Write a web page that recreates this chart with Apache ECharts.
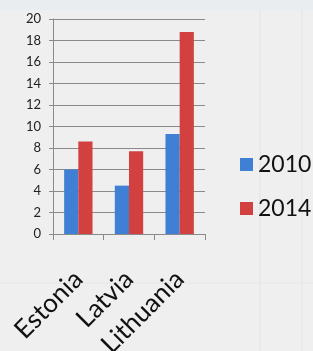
<!DOCTYPE html>
<html lang="en">
<head>
    <meta charset="UTF-8">
    <title>Baltic chart</title>
    <script src="https://cdn.jsdelivr.net/npm/echarts@6/dist/echarts.min.js"></script>
    <style>
        html, body { margin: 0; padding: 0; background: #efefef; }
        #chart { width: 313px; height: 351px; }
    </style>
</head>
<body>
<div id="chart"></div>
<script>
    var countries = ['Estonia', 'Latvia', 'Lithuania'];
    var years = ['2010', '2014'];
    var values2010 = [6.0, 4.5, 9.3];
    var values2014 = [8.6, 7.7, 18.8];

    var myChart = echarts.init(document.getElementById('chart'));
    var option = {
        backgroundColor: '#efefef',
        animation: false,
        textStyle: { fontFamily: 'Lato' },
        // faint spreadsheet background
        graphic: [
            { type: 'rect', shape: { x: 0, y: 0, width: 313, height: 10 }, style: { fill: '#e9edf0' }, silent: true },
            { type: 'line', shape: { x1: 260, y1: 10, x2: 260, y2: 351 }, style: { stroke: '#e3e3e3' }, silent: true },
            { type: 'line', shape: { x1: 302, y1: 10, x2: 302, y2: 351 }, style: { stroke: '#e3e3e3' }, silent: true },
            { type: 'line', shape: { x1: 0, y1: 283, x2: 313, y2: 283 }, style: { stroke: '#e6e6e6' }, silent: true }
        ],
        grid: { left: 53, top: 19, right: 108, bottom: 117, containLabel: false, outerBoundsMode: 'none' },
        legend: {
            data: years,
            orient: 'vertical',
            left: 235,
            top: 148,
            itemWidth: 13,
            itemHeight: 13,
            itemGap: 21,
            icon: 'rect',
            textStyle: { fontSize: 23, color: '#111', fontFamily: 'Lato' }
        },
        xAxis: {
            type: 'category',
            data: countries,
            axisLine: { lineStyle: { color: '#8a8a8a' } },
            axisTick: { show: true, length: 6, lineStyle: { color: '#8a8a8a' } },
            axisLabel: { rotate: 45, margin: 41, fontSize: 26, color: '#111', interval: 0 }
        },
        yAxis: {
            type: 'value',
            min: 0,
            max: 20,
            interval: 2,
            axisLine: { show: true, lineStyle: { color: '#8a8a8a' } },
            axisTick: { show: true, length: 4, lineStyle: { color: '#8a8a8a' } },
            axisLabel: { margin: 12, fontSize: 13, color: '#222' },
            splitLine: { lineStyle: { color: '#8a8a8a' } }
        },
        series: [
            {
                name: years[0],
                type: 'bar',
                data: values2010,
                barGap: '0%',
                barCategoryGap: '44%',
                itemStyle: { color: '#3f7fd4' }
            },
            {
                name: years[1],
                type: 'bar',
                data: values2014,
                itemStyle: { color: '#d24040' }
            }
        ]
    };
    myChart.setOption(option);
</script>
</body>
</html>
